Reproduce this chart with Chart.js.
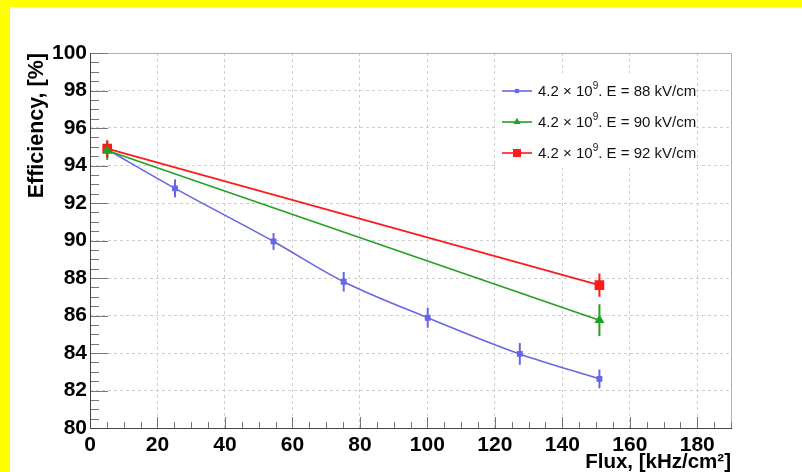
<!DOCTYPE html>
<html>
<head>
<meta charset="utf-8">
<script src="https://cdn.jsdelivr.net/npm/chart.js@4.4.1/dist/chart.umd.min.js"></script>
<style>
  html, body { margin: 0; padding: 0; overflow: hidden; background: #ffff00; }
  #wrap { position: absolute; left: 10px; top: 7px; width: 792px; height: 465px; background: #fff; overflow: hidden; }
  canvas { display: block; }
</style>
</head>
<body>
<div id="wrap"><canvas id="effChart" width="792" height="475"></canvas></div>
<script>
// field values (kV/cm) of the three series
const fields = [88, 90, 92];

// E = 88 kV/cm
const flux88 = [5.1, 25.2, 54.4, 75.2, 100.1, 127.4, 151.0];
const eff88 = [94.85, 92.78, 89.95, 87.8, 85.88, 83.95, 82.62];
const err88 = [0.45, 0.48, 0.45, 0.52, 0.53, 0.58, 0.5];

// E = 90 kV/cm
const flux90 = [5.1, 151.0];
const eff90 = [94.8, 85.75];
const err90 = [0.5, 0.85];

// E = 92 kV/cm
const flux92 = [5.1, 151.0];
const eff92 = [94.9, 87.62];
const err92 = [0.45, 0.62];

// axis ticks
const xTicks = [0, 20, 40, 60, 80, 100, 120, 140, 160, 180];
const yTicks = [80, 82, 84, 86, 88, 90, 92, 94, 96, 98, 100];

const FONT = "'Liberation Sans', Arial, Helvetica, sans-serif";
const colors = ['#6666e6', '#22a022', '#ff1a1a'];

function toPoints(xs, ys) {
    return xs.map((x, i) => ({ x: x, y: ys[i] }));
}

// vertical error bars, drawn under the markers
const errorBarPlugin = {
    id: 'errorBars',
    beforeDatasetsDraw(chart) {
        const ctx = chart.ctx;
        const xs = chart.scales.x, ys = chart.scales.y;
        chart.data.datasets.forEach(ds => {
            ctx.save();
            ctx.strokeStyle = ds.borderColor;
            ctx.lineWidth = 2;
            ds.data.forEach((p, i) => {
                const e = ds.errors[i];
                const px = xs.getPixelForValue(p.x);
                ctx.beginPath();
                ctx.moveTo(px, ys.getPixelForValue(p.y - e));
                ctx.lineTo(px, ys.getPixelForValue(p.y + e));
                ctx.stroke();
            });
            ctx.restore();
        });
    }
};

// ROOT style legend inside the frame
const legendPlugin = {
    id: 'rootLegend',
    afterDatasetsDraw(chart) {
        const ctx = chart.ctx;
        const a = chart.chartArea;
        const boxX = a.left + 407, boxY = a.top + 20;
        ctx.save();
        ctx.fillStyle = '#fff';
        ctx.fillRect(boxX, boxY, 197, 95);
        chart.data.datasets.forEach((ds, i) => {
            const y = boxY + 18 + i * 31;
            const x0 = boxX + 5;
            ctx.strokeStyle = ds.borderColor;
            ctx.lineWidth = 1.6;
            ctx.beginPath();
            ctx.moveTo(x0, y);
            ctx.lineTo(x0 + 30, y);
            ctx.stroke();
            ctx.fillStyle = ds.borderColor;
            Chart.helpers.drawPoint(ctx, {
                pointStyle: ds.pointStyle, rotation: 0,
                radius: ds.pointRadius, borderWidth: 0
            }, x0 + 15, y);

            // label with superscript exponent
            ctx.fillStyle = '#111';
            ctx.textBaseline = 'middle';
            ctx.textAlign = 'left';
            ctx.font = '15px ' + FONT;
            let tx = x0 + 36;
            const part1 = '4.2 \u00d7 10';
            ctx.fillText(part1, tx, y + 1);
            tx += ctx.measureText(part1).width;
            ctx.font = '10px ' + FONT;
            ctx.fillText('9', tx, y - 5);
            tx += ctx.measureText('9').width;
            ctx.font = '15px ' + FONT;
            ctx.fillText('. E = ' + fields[i] + ' kV/cm', tx, y + 1);
        });
        ctx.restore();
    }
};

// frame and inward ticks (major + minor)
const framePlugin = {
    id: 'rootFrame',
    afterDraw(chart) {
        const ctx = chart.ctx;
        const a = chart.chartArea;
        const xs = chart.scales.x, ys = chart.scales.y;
        ctx.save();
        ctx.lineWidth = 1;
        ctx.strokeStyle = '#b0b0b0';
        ctx.beginPath();
        ctx.moveTo(a.left, a.top + 0.5);
        ctx.lineTo(a.right + 0.5, a.top + 0.5);
        ctx.lineTo(a.right + 0.5, a.bottom);
        ctx.stroke();

        ctx.strokeStyle = '#777';
        ctx.beginPath();
        for (let v = 0; v <= 190; v += 5) {
            const px = Math.round(xs.getPixelForValue(v)) + 0.5;
            const len = v % 20 === 0 ? 11 : 6;
            ctx.moveTo(px, a.bottom);
            ctx.lineTo(px, a.bottom - len);
        }
        for (let v = 80; v <= 100; v += 0.5) {
            const py = Math.round(ys.getPixelForValue(v)) + 0.5;
            const len = Math.abs(v % 2) < 1e-6 ? 18 : 9;
            ctx.moveTo(a.left, py);
            ctx.lineTo(a.left + len, py);
        }
        ctx.stroke();

        ctx.strokeStyle = '#444';
        ctx.beginPath();
        ctx.moveTo(a.left + 0.5, a.top);
        ctx.lineTo(a.left + 0.5, a.bottom + 0.5);
        ctx.lineTo(a.right + 1, a.bottom + 0.5);
        ctx.stroke();
        ctx.restore();
    }
};

const datasets = [
    {
        label: '4.2 \u00d7 10\u2079. E = ' + fields[0] + ' kV/cm',
        data: toPoints(flux88, eff88), errors: err88, order: 2,
        borderColor: colors[0], backgroundColor: colors[0],
        borderWidth: 1.6, pointStyle: 'rect', pointRadius: 3,
        cubicInterpolationMode: 'monotone'
    },
    {
        label: '4.2 \u00d7 10\u2079. E = ' + fields[1] + ' kV/cm',
        data: toPoints(flux90, eff90), errors: err90, order: 0,
        borderColor: colors[1], backgroundColor: colors[1],
        borderWidth: 1.6, pointStyle: 'triangle', pointRadius: 4.2
    },
    {
        label: '4.2 \u00d7 10\u2079. E = ' + fields[2] + ' kV/cm',
        data: toPoints(flux92, eff92), errors: err92, order: 1,
        borderColor: colors[2], backgroundColor: colors[2],
        borderWidth: 1.6, pointStyle: 'rect', pointRadius: 5.7
    }
];

new Chart(document.getElementById('effChart'), {
    type: 'line',
    data: { datasets: datasets },
    options: {
        responsive: false,
        animation: false,
        layout: { padding: { left: 0, top: 46, right: 71, bottom: 0 } },
        elements: { point: { borderWidth: 0, hoverRadius: 5 } },
        plugins: { legend: { display: false }, tooltip: { enabled: false } },
        scales: {
            x: {
                type: 'linear', min: 0, max: 190,
                afterFit: s => { s.height = 54; },
                afterBuildTicks: s => { s.ticks = xTicks.map(v => ({ value: v })); },
                grid: { color: '#cfcfcf', lineWidth: 1, drawTicks: false },
                border: { display: false, dash: [3, 3] },
                ticks: { color: '#000', padding: 5, maxRotation: 0,
                         font: { family: FONT, size: 21, weight: 'bold' } },
                title: { display: true, text: 'Flux, [kHz/cm\u00b2]', align: 'end', color: '#000',
                         padding: { top: 0, bottom: 7 },
                         font: { family: FONT, size: 20.5, weight: 'bold' } }
            },
            y: {
                type: 'linear', min: 80, max: 100,
                afterFit: s => { s.width = 80; },
                afterBuildTicks: s => { s.ticks = yTicks.map(v => ({ value: v })); },
                grid: { color: '#cfcfcf', lineWidth: 1, drawTicks: false },
                border: { display: false, dash: [3, 3] },
                ticks: { color: '#000', padding: 3,
                         font: { family: FONT, size: 21, weight: 'bold' } },
                title: { display: true, text: 'Efficiency, [%]', align: 'end', color: '#000',
                         padding: { top: 14, bottom: 0 },
                         font: { family: FONT, size: 21.5, weight: 'bold' } }
            }
        }
    },
    plugins: [errorBarPlugin, legendPlugin, framePlugin]
});
</script>
</body>
</html>
